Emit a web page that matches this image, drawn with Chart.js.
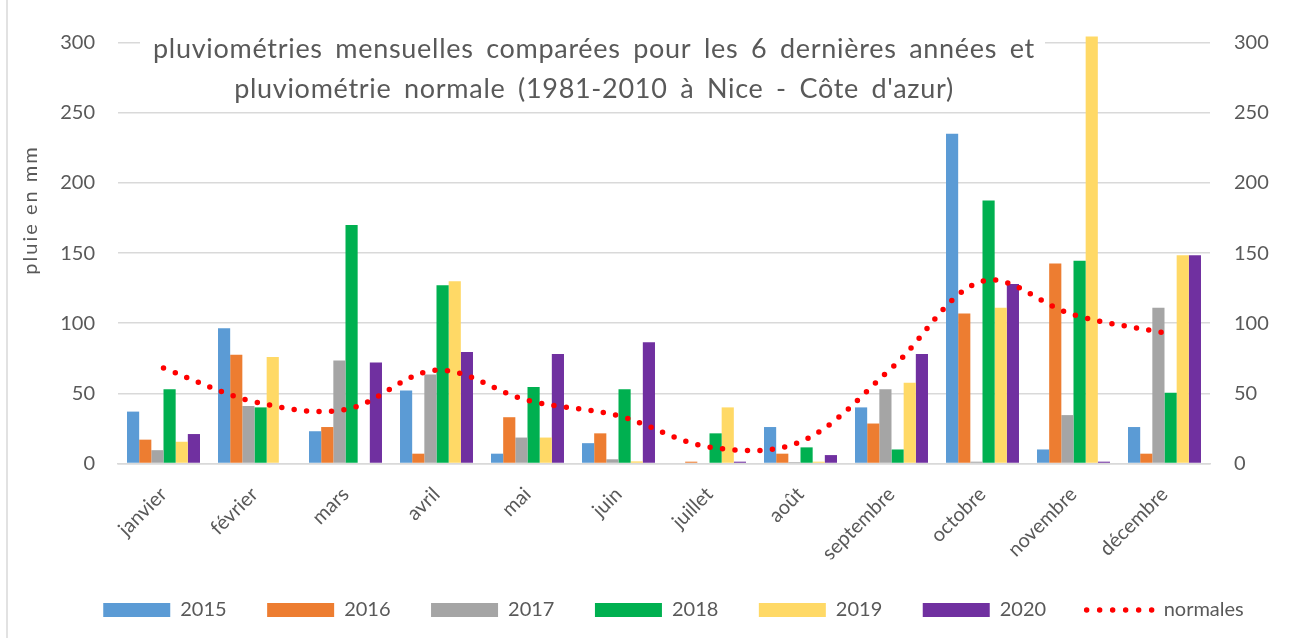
<!DOCTYPE html>
<html>
<head>
<meta charset="utf-8">
<script src="https://cdn.jsdelivr.net/npm/chart.js@4.4.1/dist/chart.umd.min.js"></script>
<style>
  html, body { margin: 0; padding: 0; background: #fff; }
  #wrap { width: 1291px; height: 638px; position: relative; }
</style>
</head>
<body>
<div id="wrap"><canvas id="chart" width="1291" height="638"></canvas></div>
<script>
// monthly rainfall (mm)
const months = ["janvier", "février", "mars", "avril", "mai", "juin", "juillet", "août", "septembre", "octobre", "novembre", "décembre"];
const years = ["2015", "2016", "2017", "2018", "2019", "2020"];
const rain2015 = [37, 96.5, 23, 52, 7, 14.5, 0, 26, 40, 235, 10, 26];
const rain2016 = [17, 77.5, 26, 7, 33, 21.5, 1.3, 7, 28.5, 107, 142.5, 7];
const rain2017 = [9.5, 41, 73.5, 63.5, 18.5, 3, 0, 1, 53, 1.3, 34.5, 111];
const rain2018 = [53, 40, 170, 127, 54.5, 53, 21.5, 11.5, 10, 187.5, 144.5, 50.5];
const rain2019 = [15.5, 76, 0, 130, 18.5, 1.5, 40, 1.3, 57.5, 111, 304.5, 148.5];
const rain2020 = [21, 0, 72, 79.5, 78, 86.5, 1.3, 6, 78, 128, 1.3, 148.5];
const normales = [68, 44, 38.5, 66.5, 45, 34, 11.7, 15.5, 68, 130, 106, 93];

const yMin = 0;
const yMax = 300;
const yStep = 50;

const titleLines = [
  "pluviométries mensuelles comparées pour les 6 dernières années et",
  "pluviométrie normale (1981-2010 à Nice - Côte d'azur)",
];
const yTitle = "pluie en mm";

const colors = ["#5B9BD5", "#ED7D31", "#A5A5A5", "#00B050", "#FFD966", "#7030A0"];
const textColor = "#595959";
const gridColor = "#d9d9d9";
const FONT = "Lato, 'Open Sans', sans-serif";

const series = [rain2015, rain2016, rain2017, rain2018, rain2019, rain2020];

const barSets = series.map((data, i) => ({
  type: "bar",
  label: years[i],
  data: data,
  backgroundColor: colors[i],
  borderWidth: 0,
  categoryPercentage: 0.802,
  barPercentage: 1.0,
  clip: false, // novembre 2019 goes past the 300 line
  yAxisID: "y",
  order: 1,
}));

const lineSet = {
  type: "line",
  label: "normales",
  data: normales,
  borderColor: "#FF0000",
  backgroundColor: "#FF0000",
  borderWidth: 5.5,
  borderDash: [0, 12.5],
  borderCapStyle: "round",
  tension: 0.35,
  pointRadius: 0,
  fill: false,
  yAxisID: "y",
  order: 0,
};

// title box sits over the plot area, gridlines hidden behind it
const overlay = {
  id: "overlay",
  beforeDatasetsDraw(chart) {
    const ctx = chart.ctx;
    ctx.save();
    ctx.fillStyle = "#fff";
    ctx.fillRect(140, 27, 905, 76);
    ctx.fillStyle = textColor;
    ctx.font = "27px " + FONT;
    ctx.letterSpacing = "0.7px";
    ctx.wordSpacing = "5px";
    ctx.textAlign = "center";
    ctx.textBaseline = "alphabetic";
    ctx.fillText(titleLines[0], 594, 58);
    ctx.fillText(titleLines[1], 594, 98);
    ctx.restore();
  },
  afterDraw(chart) {
    const ctx = chart.ctx;
    ctx.save();
    // axis title
    ctx.translate(31, 210);
    ctx.rotate(-Math.PI / 2);
    ctx.fillStyle = textColor;
    ctx.font = "20px " + FONT;
    ctx.letterSpacing = "2px";
    ctx.textAlign = "center";
    ctx.textBaseline = "middle";
    ctx.fillText(yTitle, 0, 0);
    ctx.restore();
    // frame edge on the left
    ctx.save();
    ctx.strokeStyle = gridColor;
    ctx.lineWidth = 1.5;
    ctx.beginPath();
    ctx.moveTo(7, 0);
    ctx.lineTo(7, 638);
    ctx.stroke();
    ctx.restore();
  },
};

const tickFont = { family: FONT, size: 20 };

new Chart(document.getElementById("chart"), {
  type: "bar",
  data: {
    labels: months,
    datasets: [...barSets, lineSet],
  },
  options: {
    responsive: false,
    animation: false,
    layout: { padding: { left: 56, right: 0, top: 42.7, bottom: 8 } },
    plugins: {
      tooltip: { enabled: false },
      legend: {
        position: "bottom",
        labels: {
          usePointStyle: true,
          pointStyleWidth: 67,
          boxHeight: 14,
          padding: 40.5,
          color: textColor,
          font: { family: FONT, size: 20 },
          generateLabels(chart) {
            return chart.data.datasets.map((ds, i) => {
              const isLine = ds.type === "line";
              return {
                text: ds.label,
                fillStyle: ds.backgroundColor,
                strokeStyle: ds.borderColor || ds.backgroundColor,
                lineWidth: isLine ? 5.5 : 0,
                lineDash: isLine ? [0, 13] : [],
                lineCap: "round",
                pointStyle: isLine ? "line" : "rect",
                fontColor: textColor,
                hidden: false,
                datasetIndex: i,
              };
            });
          },
        },
      },
    },
    scales: {
      x: {
        grid: { display: false, drawTicks: false },
        border: { display: true, color: gridColor, width: 1.5 },
        ticks: {
          color: textColor,
          font: { family: FONT, size: 20 },
          maxRotation: 45,
          minRotation: 45,
          padding: 19,
          autoSkip: false,
        },
        afterFit(scale) { scale.height = 96; },
      },
      y: {
        min: yMin,
        max: yMax,
        ticks: { stepSize: yStep, padding: 23, color: textColor, font: tickFont },
        grid: { color: gridColor, lineWidth: 1.5, drawTicks: false },
        border: { display: false },
        afterFit(scale) { scale.width = 62; },
      },
      y2: {
        position: "right",
        min: yMin,
        max: yMax,
        ticks: { stepSize: yStep, padding: 24, color: textColor, font: tickFont },
        grid: { display: false, drawTicks: false },
        border: { display: false },
        afterFit(scale) { scale.width = 81; },
      },
    },
  },
  plugins: [overlay],
});
</script>
</body>
</html>
